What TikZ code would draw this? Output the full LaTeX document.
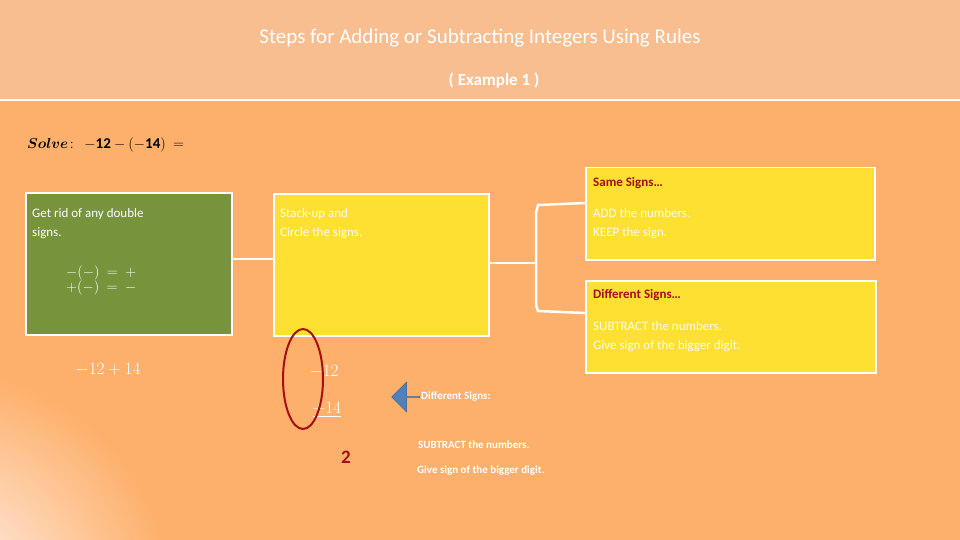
\documentclass[tikz,border=0pt]{standalone}
\usepackage{amsmath,bm}
\usepackage{fontspec}
\setmainfont{Carlito}
\usetikzlibrary{shapes.arrows}
\definecolor{bgor}{HTML}{FDB06B}
\definecolor{hdr}{HTML}{F9BE90}
\definecolor{grn}{HTML}{77933C}
\definecolor{yel}{HTML}{FDE032}
\definecolor{dred}{HTML}{A50F0F}
\definecolor{blu}{HTML}{4F81BD}
\tikzset{
 box/.style={draw=white,line width=1.5pt,anchor=north west,inner sep=0pt},
 conn/.style={draw=white,line width=2.5pt},
 wt/.style={text=white,anchor=west,inner sep=0pt},
 ht/.style={text=dred,font=\bfseries\fontsize{13}{15}\selectfont,anchor=west,inner sep=0pt},
 bt/.style={text=white,font=\fontsize{13}{19}\selectfont,anchor=north west,align=left,inner sep=0pt}
}
\begin{document}
\begin{tikzpicture}[x=1pt,y=-1pt]
\useasboundingbox (0,0) rectangle (960,540);
\fill[bgor] (0,0) rectangle (960,540);
\shade[inner color=white!85!pink,outer color=bgor] (-60,600) circle (230);
\fill[hdr] (0,0) rectangle (960,100);
\draw[white,line width=2pt] (0,100) -- (960,100);
\node[text=white,font=\fontsize{21}{25}\selectfont] (title) at (480,38) {Steps for Adding or Subtracting Integers Using Rules};
\node[text=white,font=\bfseries\fontsize{17}{20}\selectfont] (ex) at (494,81) {( Example 1 )};
\node[anchor=west,inner sep=0pt,font=\fontsize{15}{18}\selectfont] (solve) at (27,145) {$\bm{Solve}\!:\ \ \mathbf{-12}-(\mathbf{-14})\ =$};
% boxes
\node[box,fill=grn,minimum width=206pt,minimum height=142pt] (g) at (25,192) {};
\node[box,fill=yel,minimum width=215pt,minimum height=142pt] (y1) at (273,193) {};
\node[box,fill=yel,minimum width=289pt,minimum height=92pt] (s) at (585,167) {};
\node[box,fill=yel,minimum width=290pt,minimum height=92pt] (d) at (585,280) {};
\draw[conn] (g.east |- 0,259) -- (y1.west |- 0,259);
\coordinate (j) at (536,263);
\draw[conn] (y1.east |- j) -- (j);
\draw[conn] (s.west |- 0,203) -- (538,205) -- (536,213) -- (536,305) -- (538,311) -- (d.west |- 0,313);
% texts in boxes
\node[bt] (gt) at (32,208) {Get rid of any double\\signs.};
\node[text=white,anchor=north west,inner sep=0pt,font=\fontsize{15}{17}\selectfont] (gm) at (66,264) {$\begin{array}{@{}l@{}}-(-)\ =\ +\\[-2pt] +(-)\ =\ -\end{array}$};
\node[bt,text=white!90!yel] (yt) at (280,208) {Stack-up and\\Circle the signs.};
\node[ht] (sh) at (593,183) {Same Signs…};
\node[bt,text=white!90!yel] (stt) at (593,208) {ADD the numbers.\\KEEP the sign.};
\node[ht] (dh) at (593,295) {Different Signs…};
\node[bt,text=white!90!yel] (dt) at (593,321) {SUBTRACT the numbers.\\Give sign of the bigger digit.};
% work
\node[text=white,font=\fontsize{19}{22}\selectfont] (e1) at (108,370) {$-12+14$};
\node[text=white,font=\fontsize{19}{22}\selectfont] (e2) at (324,372) {$-12$};
\node[text=white,font=\fontsize{19}{22}\selectfont] (e3) at (327,410) {$\underline{+14}$};
\node[text=dred,font=\bfseries\fontsize{19}{22}\selectfont] (e4) at (346,457) {$\mathbf{2}$};
\draw[dred,line width=2pt] (303,379) ellipse (20 and 50);
\node[single arrow,fill=blu,draw=blu!70!black,shape border rotate=180,minimum height=28pt,minimum width=30pt,single arrow head extend=4pt,inner sep=0pt] (ar) at (406,397) {};
\node[wt,font=\bfseries\fontsize{11}{13}\selectfont] (n1) at (421,397) {Different Signs:};
\node[wt,font=\bfseries\fontsize{11}{13}\selectfont] (n2) at (418,445) {SUBTRACT the numbers.};
\node[wt,font=\bfseries\fontsize{11}{13}\selectfont] (n3) at (417,471) {Give sign of the bigger digit.};
\end{tikzpicture}
\end{document}
